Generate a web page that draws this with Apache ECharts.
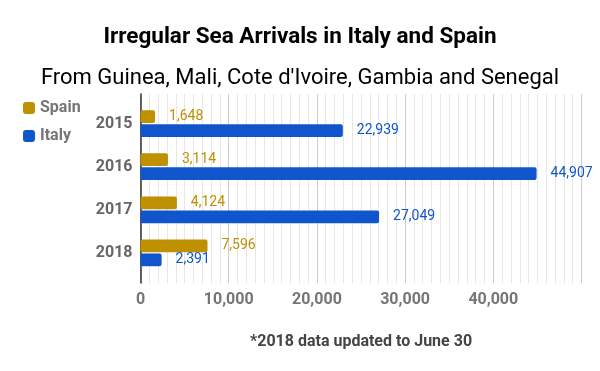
<!DOCTYPE html>
<html>
<head>
<meta charset="utf-8">
<script src="https://cdn.jsdelivr.net/npm/echarts@6/dist/echarts.min.js"></script>
<style>
html,body{margin:0;padding:0;background:#fff;}
#chart{width:600px;height:371px;}
</style>
</head>
<body>
<div id="chart"></div>
<script>
var years = ['2015', '2016', '2017', '2018'];
var spain = [1648, 3114, 4124, 7596];
var italy = [22939, 44907, 27049, 2391];
var seriesNames = ['Spain', 'Italy'];
var xTicks = [0, 10000, 20000, 30000, 40000, 50000];
var titleText = 'Irregular Sea Arrivals in Italy and Spain';
var subtitleText = "From Guinea, Mali, Cote d'Ivoire, Gambia and Senegal";
var noteText = '*2018 data updated to June 30';

var FONT = 'Roboto, "Noto Sans", sans-serif';
var C_SPAIN = '#BF9000', C_ITALY = '#1155CC';
function fmt(v){ return v.toLocaleString('en-US'); }

var chart = echarts.init(document.getElementById('chart'), null, {renderer:'canvas'});
var xMax = xTicks[xTicks.length-1];
var xInt = xTicks[1]-xTicks[0];

chart.setOption({
  animation:false,
  backgroundColor:'#ffffff',
  textStyle:{fontFamily:FONT},
  graphic:[
    {type:'text', x:300, y:37.5, style:{text:titleText, font:'bold 22.5px '+FONT, fill:'#000', textAlign:'center', textVerticalAlign:'middle'}},
    {type:'text', x:300, y:78, style:{text:subtitleText, font:'22px '+FONT, fill:'#000', textAlign:'center', textVerticalAlign:'middle'}},
    {type:'text', x:361, y:342, style:{text:noteText, font:'bold 16px '+FONT, fill:'#444', textAlign:'center', textVerticalAlign:'middle'}}
  ],
  legend:{
    orient:'vertical', left:18, top:95,
    itemWidth:12, itemHeight:12, itemGap:12,
    icon:'roundRect',
    data:seriesNames,
    textStyle:{fontFamily:FONT, fontWeight:'bold', fontSize:16, color:'#757575', padding:[0,0,0,0]}
  },
  grid:[
    {left:140.5, right:18.5, top:94, height:189, containLabel:false},
    {left:140.5, right:18.5, top:102, height:172.5, containLabel:false}
  ],
  xAxis:[
    {type:'value', gridIndex:0, min:0, max:xMax, interval:xInt,
     axisLine:{show:false}, axisTick:{show:false},
     splitLine:{show:true, lineStyle:{color:'#cccccc', width:1}},
     minorTick:{show:false, splitNumber:10},
     minorSplitLine:{show:true, lineStyle:{color:'#e6e6e6', width:1}},
     axisLabel:{margin:9, fontFamily:FONT, fontWeight:'bold', fontSize:16, color:'#757575',
       formatter:function(v){ return v===xMax ? '' : fmt(v); }}
    },
    {type:'value', gridIndex:1, min:0, max:xMax, show:false}
  ],
  yAxis:[
    {type:'category', gridIndex:0, data:years, inverse:true,
     axisLine:{show:true, lineStyle:{color:'#333333', width:1.5}},
     axisTick:{show:false}, axisLabel:{show:false}, splitLine:{show:false}},
    {type:'category', gridIndex:1, data:years, inverse:true,
     axisLine:{show:false}, axisTick:{show:false},
     axisLabel:{margin:8, fontFamily:FONT, fontWeight:'bold', fontSize:16, color:'#666666'}}
  ],
  series:[
    {name:seriesNames[0], type:'bar', xAxisIndex:1, yAxisIndex:1, data:spain,
     barWidth:12.7, barGap:'10%',
     itemStyle:{color:C_SPAIN, borderRadius:2},
     label:{show:true, position:'right', distance:14, fontFamily:FONT, fontSize:14, color:C_SPAIN,
       formatter:function(p){return fmt(p.value);}}},
    {name:seriesNames[1], type:'bar', xAxisIndex:1, yAxisIndex:1, data:italy,
     barWidth:12.7, barGap:'10%',
     itemStyle:{color:C_ITALY, borderRadius:2},
     label:{show:true, position:'right', distance:14, fontFamily:FONT, fontSize:14, color:C_ITALY,
       formatter:function(p){return fmt(p.value);}}}
  ]
});
</script>
</body>
</html>
